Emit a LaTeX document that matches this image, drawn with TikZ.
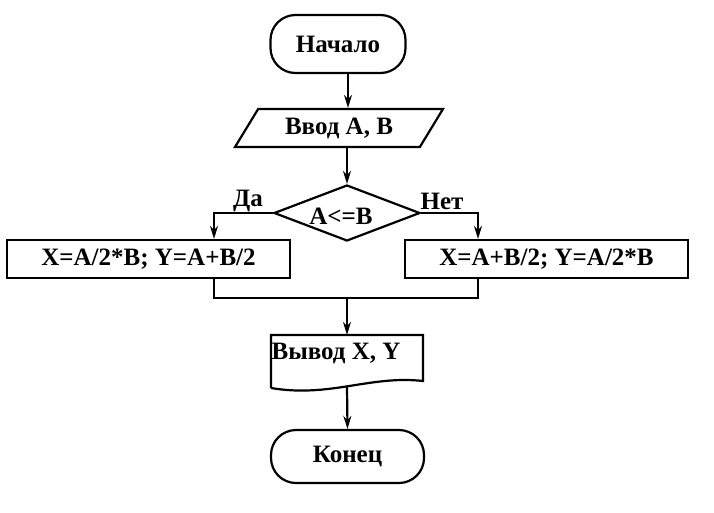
\documentclass[tikz,border=0pt]{standalone}
\usepackage{fontspec}
\setmainfont{Liberation Serif}
\usetikzlibrary{arrows.meta,shapes.geometric,calc}
\begin{document}
\begin{tikzpicture}[x=1pt,y=-1pt,line width=2.2pt,
  font=\fontsize{25}{29}\selectfont\bfseries,
  >={Stealth[length=13pt,width=8pt]},
  term/.style={draw,rectangle,rounded corners=25pt,inner sep=0pt},
  iobox/.style={draw,trapezium,trapezium left angle=42,trapezium right angle=138,trapezium stretches body,inner sep=0pt},
  decide/.style={draw,diamond,aspect=2.6,inner sep=0pt},
  procbox/.style={draw,rectangle,inner sep=0pt},
  lbl/.style={inner sep=0pt}]
\useasboundingbox[fill=white] (0,0) rectangle (714,512);
\node[term,minimum width=135pt,minimum height=58pt] (start) at (338,44) {Начало};
\node[iobox,minimum width=208pt,minimum height=38pt] (inp) at (339,128) {Ввод A, B\hspace{12pt}};
\node[decide,minimum width=146pt,minimum height=56pt] (dia) at (347,213) {};
\node[lbl] (diat) at (341,216) {A<=B};
\node[procbox,minimum width=283pt,minimum height=38pt] (lb) at (148.5,259) {X=A/2*B; Y=A+B/2};
\node[procbox,minimum width=283pt,minimum height=38pt] (rb) at (546.5,259) {X=A+B/2; Y=A/2*B};
\node[inner sep=0pt,minimum width=152pt,minimum height=50pt] (outp) at (347,361) {};
\draw (271,388) -- (271,335) -- (423,335) -- (423,381)
  .. controls (370,375) and (330,398) .. (271,388);
\node[lbl] (outt) at (336,353) {Вывод X, Y};
\node[term,minimum width=153pt,minimum height=53pt] (fin) at (347.5,456.5) {Конец};
\node[lbl] (da) at (248,201) {Да};
\node[lbl] (net) at (442,201) {Нет};
\coordinate (ax) at (348,0);
\coordinate (lx) at (214,0);
\coordinate (rx) at (478,0);
\coordinate (mc) at (347,298);
\draw[->] (ax |- start.south) -- (ax |- inp.north);
\draw[->] (inp.south -| dia.north) -- (dia.north);
\draw[->] (dia.west) -| (lx |- lb.north);
\draw[->] (dia.east) -| (rx |- rb.north);
\draw (lx |- lb.south) |- (mc) -| (rx |- rb.south);
\draw[->] (mc) -- (outp.north);
\draw[->] (outp.south) -- (fin.north);
\end{tikzpicture}
\end{document}
